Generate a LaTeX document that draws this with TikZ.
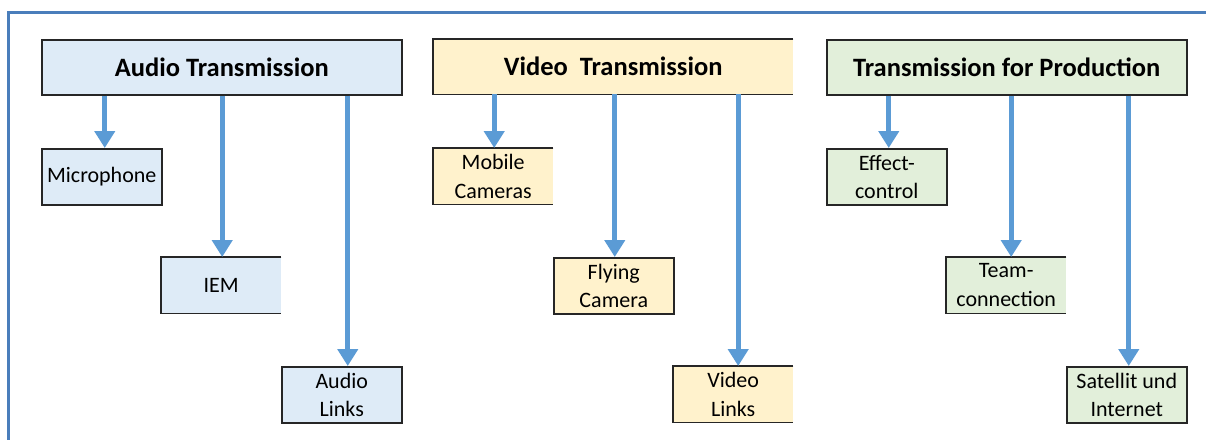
\documentclass[tikz,border=0pt]{standalone}
\usepackage{fontspec}
\setmainfont{Carlito}
\usetikzlibrary{arrows.meta}
\definecolor{frameblue}{HTML}{4A7EBB}
\definecolor{arrowblue}{HTML}{5B9BD5}
\definecolor{fillblue}{HTML}{DEEBF7}
\definecolor{fillyellow}{HTML}{FFF2CC}
\definecolor{fillgreen}{HTML}{E2EFDA}
\definecolor{edge}{HTML}{262626}
\tikzset{
  hdr/.style={minimum width=360pt, minimum height=55pt, inner sep=0pt, anchor=north west,
    font=\fontsize{26.5}{30}\selectfont\bfseries},
  leaf/.style={minimum width=120pt, minimum height=56pt, inner sep=0pt, anchor=north west,
    align=center, font=\fontsize{22}{28.5}\selectfont},
  full/.style={draw=edge, line width=1.5pt},
  border/.style={draw=edge, line width=1.5pt},
  arr/.style={draw=arrowblue, line width=5pt, -{Triangle[width=20pt,length=17pt]}},
}
\begin{document}
\begin{tikzpicture}[x=1pt,y=-1pt]
\useasboundingbox (0,0) rectangle (1206,439);
\fill[white] (0,0) rectangle (1206,439);
\draw[frameblue, line width=3pt] (8,450) -- (8,12) -- (1220,12);
% headers
\node[hdr, fill=fillblue, full] (aud) at (41,39) {Audio Transmission};
\node[hdr, fill=fillyellow] (vid) at (433,39) {Video\ \ Transmission};
\node[hdr, fill=fillgreen, full] (prod) at (826,39) {Transmission for Production};
% leaves
\node[leaf, fill=fillblue, full] (mic) at (41,148) {Microphone};
\node[leaf, fill=fillblue] (iem) at (161,257) {IEM};
\node[leaf, fill=fillblue, full] (alink) at (281,366) {Audio\\Links};
\node[leaf, fill=fillyellow] (mob) at (433,148) {Mobile\\Cameras};
\node[leaf, fill=fillyellow, full] (fly) at (553,257) {Flying\\Camera};
\node[leaf, fill=fillyellow] (vlink) at (673,366) {Video\\Links};
\node[leaf, fill=fillgreen, full] (eff) at (826,148) {Effect-\\control};
\node[leaf, fill=fillgreen] (team) at (946,257) {Team-\\connection};
\node[leaf, fill=fillgreen, full] (sat) at (1066,366) {Satellit und\\Internet};
% open-right borders
\foreach \n in {vid,iem,mob,vlink,team}
  \draw[border] (\n.north east) -- (\n.north west) -- (\n.south west) -- (\n.south east);
% arrows
\draw[arr] ([xshift=3pt]mic.north |- aud.south) -- ([xshift=3pt]mic.north);
\draw[arr] ([xshift=1pt]iem.north |- aud.south) -- ([xshift=1pt]iem.north);
\draw[arr] ([xshift=6pt]alink.north |- aud.south) -- ([xshift=6pt]alink.north);
\draw[arr] ([xshift=1pt]mob.north |- vid.south) -- ([xshift=1pt]mob.north);
\draw[arr] ([xshift=1pt]fly.north |- vid.south) -- ([xshift=1pt]fly.north);
\draw[arr] ([xshift=5pt]vlink.north |- vid.south) -- ([xshift=5pt]vlink.north);
\draw[arr] ([xshift=2pt]eff.north |- prod.south) -- ([xshift=2pt]eff.north);
\draw[arr] ([xshift=5pt]team.north |- prod.south) -- ([xshift=5pt]team.north);
\draw[arr] ([xshift=2pt]sat.north |- prod.south) -- ([xshift=2pt]sat.north);
\end{tikzpicture}
\end{document}
